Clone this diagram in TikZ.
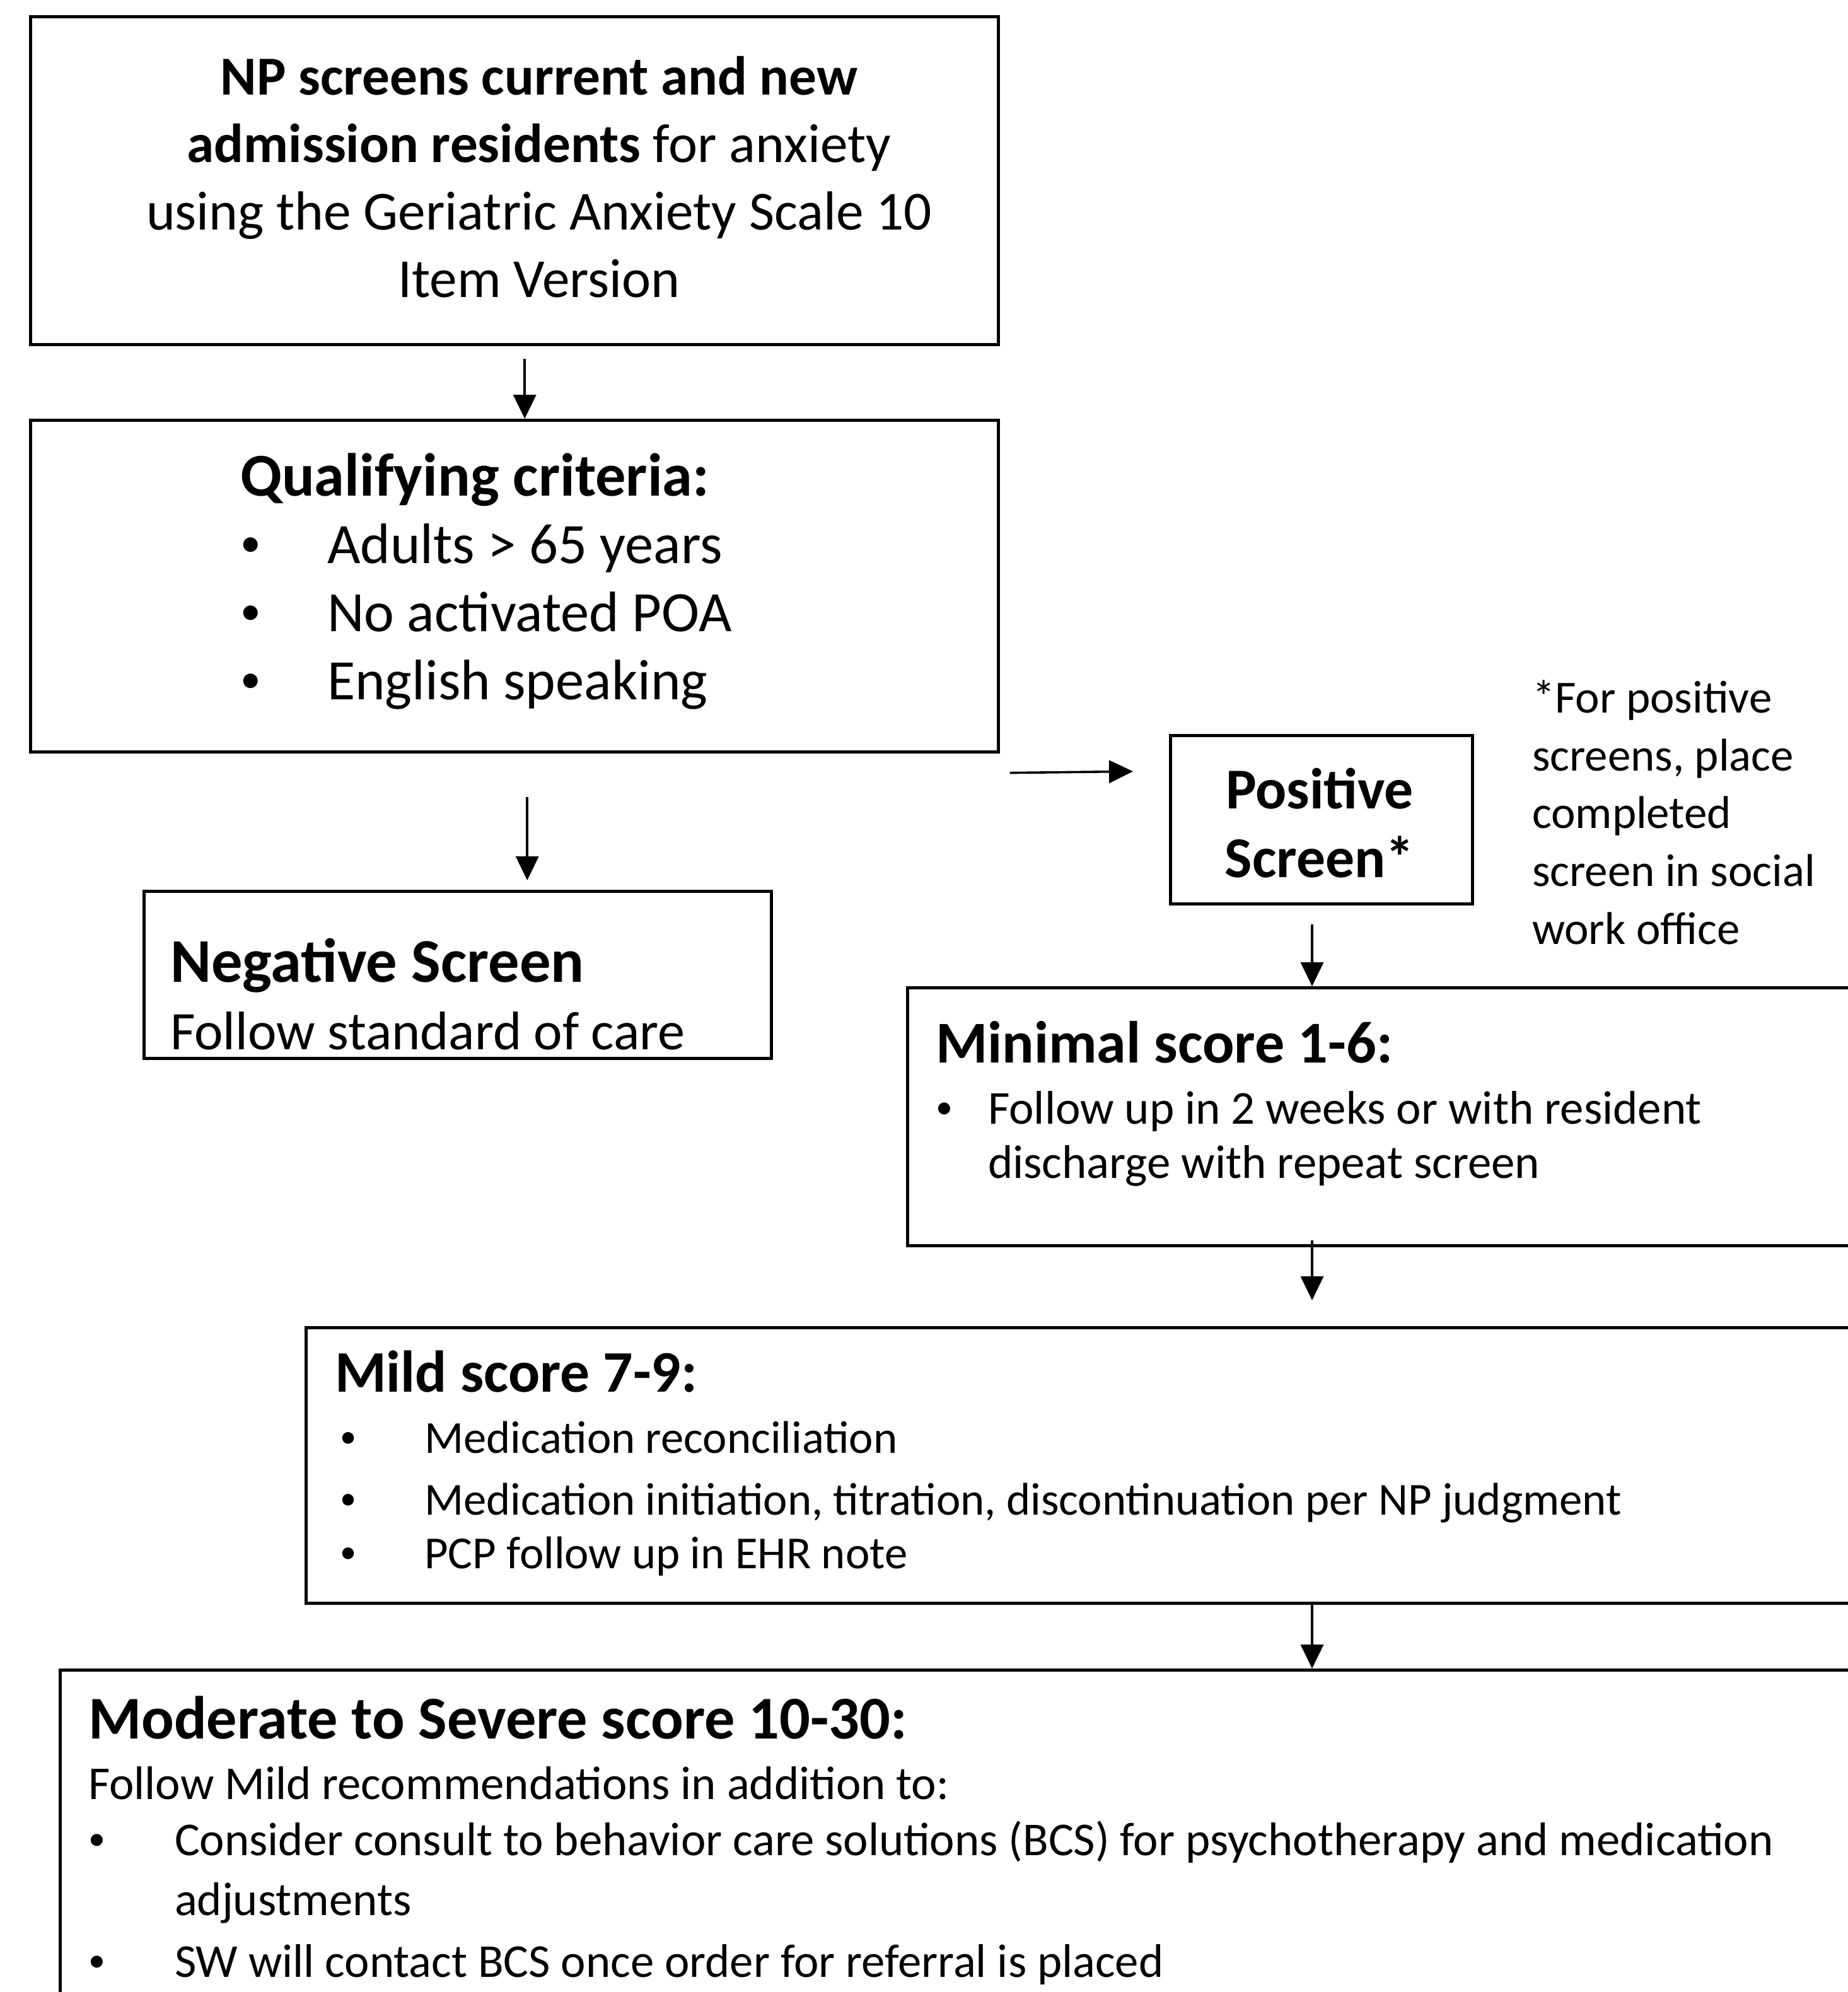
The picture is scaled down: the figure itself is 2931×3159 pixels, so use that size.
\documentclass[tikz,border=0pt]{standalone}
\usepackage{fontspec}
\setmainfont{Carlito}
\usetikzlibrary{arrows.meta}
\newlength\fitlen
\newcommand\fitfont[4]{%
  \settowidth\fitlen{\fontsize{10pt}{12pt}\selectfont#2#3}%
  \pgfmathsetmacro#1{2.5*#4/\fitlen}}
\newcommand\fs[2]{\fontsize{#1pt}{#2pt}\selectfont}
\newcommand\bul{\raisebox{0.12em}{\scalebox{0.72}{•}}}
\begin{document}
\fitfont\szA{}{using the Geriatric Anxiety Scale 10}{1246}%
\fitfont\szB{}{No activated POA}{642}%
\fitfont\szBt{\bfseries}{Qualifying criteria:}{744}%
\fitfont\szC{}{Follow standard of care}{817}%
\fitfont\szCt{\bfseries}{Negative Screen}{657}%
\fitfont\szD{\bfseries}{Positive}{298}%
\fitfont\szE{}{screen in social}{449}%
\fitfont\szFt{\bfseries}{Minimal score 1-6:}{725}%
\fitfont\szF{}{Follow up in 2 weeks or with resident}{1132}%
\fitfont\szGt{\bfseries}{Mild score 7-9:}{575}%
\fitfont\szG{}{Medication initiation, titration, discontinuation per NP judgment}{1899}%
\fitfont\szHt{\bfseries}{Moderate to Severe score 10-30:}{1299}%
\fitfont\szH{}{Consider consult to behavior care solutions (BCS) for psychotherapy and medication}{2536}%
\begin{tikzpicture}[x=0.25pt,y=-0.25pt,
  box/.style={draw, line width=1.15pt, rectangle, inner sep=0pt, anchor=north west},
  conn/.style={line width=0.9pt, -{Triangle[length=9.5pt,width=9pt]}},
  txt/.style={inner sep=0pt, outer sep=0pt, anchor=base west, align=left},
  ctxt/.style={inner sep=0pt, outer sep=0pt, anchor=base, align=center},
]
\useasboundingbox (0,0) rectangle (2931,3159);
\clip (0,0) rectangle (2931,3159);
\fill[white] (0,0) rectangle (2931,3159);

% boxes
\node[box, minimum width=383.75pt, minimum height=130pt] (b1) at (46,24) {};
\node[box, minimum width=383.75pt, minimum height=131.5pt] (b2) at (46,664) {};
\node[box, minimum width=248.75pt, minimum height=66.25pt] (neg) at (226,1411) {};
\node[box, minimum width=119.75pt, minimum height=66.75pt] (pos) at (1854,1164) {};
\node[box, minimum width=380.75pt, minimum height=102.25pt] (mini) at (1437,1564) {};
\node[box, minimum width=619.25pt, minimum height=109.25pt] (mild) at (483,2103) {};
\node[box, minimum width=716.75pt, minimum height=138.5pt] (mod) at (93,2646) {};

% texts (anchor = baseline of the last line)
\node[ctxt, font=\fs{\szA}{26.75}] (t1) at (855,471)
  {\textbf{NP screens current and new}\\\textbf{admission residents} for anxiety\\using the Geriatric Anxiety Scale 10\\Item Version};

\node[txt, font=\fs{\szBt}{27}\bfseries] (t2h) at (381,786) {Qualifying criteria:};
\node[txt, font=\fs{\szB}{26.9}] (t2b) at (381,1109)
  {\makebox[34.5pt][l]{\bul}Adults > 65 years\\\makebox[34.5pt][l]{\bul}No activated POA\\\makebox[34.5pt][l]{\bul}English speaking};

\node[txt, font=\fs{\szCt}{26.75}\bfseries] (t3h) at (270,1557) {Negative Screen};
\node[txt, font=\fs{\szC}{26.75}] (t3b) at (270,1664) {Follow standard of care};

\node[ctxt, font=\fs{\szD}{27.25}\bfseries] (t4) at (2093,1391) {Positive\\Screen*};

\node[txt, font=\fs{\szE}{22.9}] (t5) at (2430,1497)
  {*For positive\\screens, place\\completed\\screen in social\\work office};

\node[txt, font=\fs{\szFt}{24}\bfseries] (t6h) at (1484,1685) {Minimal score 1-6:};
\node[txt, font=\fs{\szF}{21.5}] (t6b) at (1484,1868)
  {\makebox[20.75pt][l]{\bul}Follow up in 2 weeks or with resident\\\hspace*{20.75pt}discharge with repeat screen};

\node[txt, font=\fs{\szGt}{24}\bfseries] (t7h) at (531,2207) {Mild score 7-9:};
\node[txt, font=\fs{\szG}{21.25}] (t7b) at (531,2487)
  {\makebox[35.5pt][l]{\hspace*{2pt}\bul}Medication reconciliation\\[3.25pt]\makebox[35.5pt][l]{\hspace*{2pt}\bul}Medication initiation, titration, discontinuation per NP judgment\\\makebox[35.5pt][l]{\hspace*{2pt}\bul}PCP follow up in EHR note};

\node[txt, font=\fs{\szHt}{24}\bfseries] (t8h) at (140,2757) {Moderate to Severe score 10-30:};
\node[txt, font=\fs{\szH}{22.25}] (t8b) at (140,3135)
  {Follow Mild recommendations in addition to:\\\makebox[34.25pt][l]{\bul}Consider consult to behavior care solutions (BCS) for psychotherapy and medication\\[1.5pt]\hspace*{34.25pt}adjustments\\[2.25pt]\makebox[34.25pt][l]{\bul}SW will contact BCS once order for referral is placed};

% connectors
\coordinate (rc) at (2081,0);
\draw[conn, shorten <=5pt] ([xshift=4.1pt]b1.south) -- ([xshift=4.1pt]b2.north);
\draw[conn, shorten <=17.25pt, shorten >=3.75pt] ([xshift=5.1pt]b2.south) -- ([xshift=5.1pt]b2.south |- neg.north);
\draw[conn] ([shift={(16,31)}]b2.south east) -- ([shift={(-57,-76.5)}]pos.west);
\draw[conn, shorten <=7.5pt] (rc |- pos.south) -- (rc |- mini.north);
\draw[conn, shorten <=-2.75pt, shorten >=10.25pt] (rc |- mini.south) -- (rc |- mild.north);
\draw[conn] (rc |- mild.south) -- (rc |- mod.north);
\end{tikzpicture}
\end{document}
